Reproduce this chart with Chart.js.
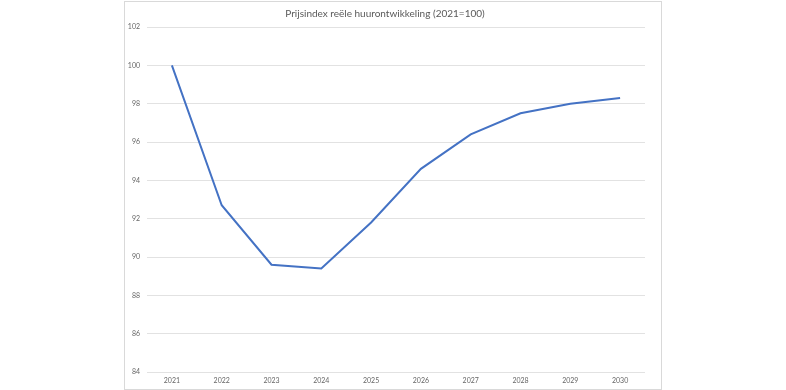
<!DOCTYPE html>
<html><head><meta charset="utf-8">
<script src="https://cdn.jsdelivr.net/npm/chart.js@4"></script>
<style>
html,body{margin:0;padding:0;background:#fff;width:786px;height:390px;overflow:hidden}
#box{position:absolute;left:124px;top:1px;width:536px;height:387px;border:1px solid #d9d9d9}
#c{position:absolute;left:0;top:0}
</style></head><body>
<div id="box"><canvas id="c" width="536" height="387"></canvas></div>
<script>
const titleText = 'Prijsindex reële huurontwikkeling (2021=100)';
const years = ['2021','2022','2023','2024','2025','2026','2027','2028','2029','2030'];
const index = [100, 92.7, 89.6, 89.4, 91.8, 94.6, 96.4, 97.5, 98.0, 98.3];
const yMin = 84, yMax = 102, yStep = 2;
const FONT = 'Lato, "Open Sans", sans-serif';
new Chart(document.getElementById('c'), {
  type: 'line',
  data: { labels: years, datasets: [{ data: index, borderColor: '#4472C4', borderWidth: 2, pointRadius: 0, tension: 0, fill: false }] },
  options: {
    responsive: false, animation: false,
    layout: { padding: { left: 0, right: 16, top: 0, bottom: 0 } },
    plugins: {
      legend: { display: false }, tooltip: { enabled: false },
      title: { display: true, text: titleText, color: '#595959', font: { family: FONT, size: 10, weight: 'normal' }, padding: { top: 6, bottom: 7 } }
    },
    scales: {
      x: { offset: true, grid: { display: false, drawTicks: false }, border: { display: false },
           ticks: { color: '#666', font: { family: FONT, size: 7 }, padding: 5, maxRotation: 0 },
           afterFit: s => { s.height = 17; } },
      y: { min: yMin, max: yMax, grid: { color: '#e2e2e2', drawTicks: false, lineWidth: 1 }, border: { display: false },
           ticks: { stepSize: yStep, color: '#666', font: { family: FONT, size: 7 }, padding: 7 },
           afterFit: s => { s.width = 22; } }
    }
  }
});
</script></body></html>
